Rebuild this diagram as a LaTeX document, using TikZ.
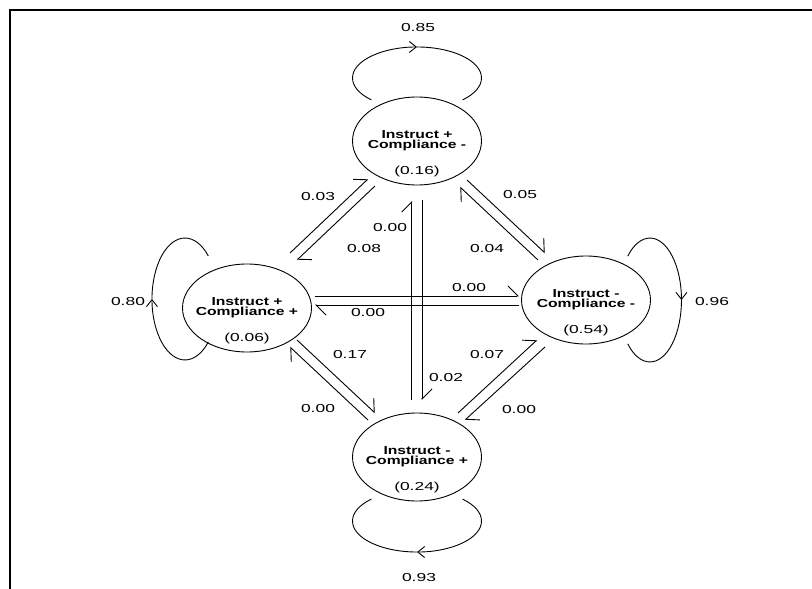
\documentclass[tikz,border=0pt]{standalone}
\usepackage{fontspec}
\setmainfont{Liberation Sans}
\newfontfamily\numfont{Liberation Sans}[FakeStretch=1.5]
\newfontfamily\statefont{Liberation Sans Bold}[FakeStretch=1.35]
\usetikzlibrary{arrows.meta,shapes.geometric}

\begin{document}
\begin{tikzpicture}[x=1pt, y=1pt, line width=0.9pt,
  state/.style={ellipse, draw, minimum width=129pt, minimum height=88pt, inner sep=0pt},
  statetext/.style={align=center, inner sep=0pt, yshift=-13pt, font=\statefont\fontsize{11.6}{10}\selectfont},
  prob/.style={inner sep=0pt, font=\numfont\fontsize{11.6}{12}\selectfont},
  flow/.style={-{Straight Barb[left, length=10pt, width=20pt]}},
  loopflow/.style={-{Straight Barb[length=7pt, width=11pt]}}]
  \useasboundingbox (0,0) rectangle (812,-589);
  \draw[line width=2pt] (812,-10) -- (10,-10) -- (10,-589);

  \node[state, label={[statetext]center:Instruct +\\Compliance -\\[14pt]\numfont (0.16)}] (ipcm) at (417,-141) {};
  \node[state, label={[statetext]center:Instruct +\\Compliance +\\[14pt]\numfont (0.06)}] (ipcp) at (247,-308) {};
  \node[state, label={[statetext]center:Instruct -\\Compliance -\\[14pt]\numfont (0.54)}] (imcm) at (586,-300) {};
  \node[state, label={[statetext]center:Instruct -\\Compliance +\\[14pt]\numfont (0.24)}] (imcp) at (417,-457) {};

  % self loops
  \draw[loopflow] ([shift={(-45.6,41.1)}]ipcm.center) arc[start angle=225, end angle=90, x radius=64.5, y radius=31];
  \draw ([shift={(45.6,41.1)}]ipcm.center) arc[start angle=-45, end angle=90, x radius=64.5, y radius=31];
  \draw[loopflow] ([shift={(-38.7,-34.1)}]ipcp.center) arc[start angle=-45, end angle=-180, x radius=33, y radius=61];
  \draw ([shift={(-38.7,52.1)}]ipcp.center) arc[start angle=45, end angle=180, x radius=33, y radius=61];
  \draw[loopflow] ([shift={(41.7,43.8)}]imcm.center) arc[start angle=135, end angle=0, x radius=31.5, y radius=62];
  \draw ([shift={(41.7,-43.8)}]imcm.center) arc[start angle=-135, end angle=0, x radius=31.5, y radius=62];
  \draw[loopflow] ([shift={(45.6,-42.1)}]imcp.center) arc[start angle=45, end angle=-90, x radius=64.5, y radius=31];
  \draw ([shift={(-45.6,-42.1)}]imcp.center) arc[start angle=135, end angle=270, x radius=64.5, y radius=31];

  % transitions between states
  \draw[flow] ([shift={(43,55)}]ipcp.center) -- ([shift={(-49,-38)}]ipcm.center);
  \draw[flow] ([shift={(-42,-45)}]ipcm.center) -- ([shift={(50,48)}]ipcp.center);
  \draw[flow] ([shift={(50,-39)}]ipcm.center) -- ([shift={(-41,47)}]imcm.center);
  \draw[flow] ([shift={(-48,40)}]imcm.center) -- ([shift={(43,-46)}]ipcm.center);
  \draw[flow] ([shift={(-49,37)}]imcp.center) -- ([shift={(43,-39)}]ipcp.center);
  \draw[flow] ([shift={(50,-32)}]ipcp.center) -- ([shift={(-42,44)}]imcp.center);
  \draw[flow] ([shift={(41,44)}]imcp.center) -- ([shift={(-49,-40)}]imcm.center);
  \draw[flow] ([shift={(-41,-47)}]imcm.center) -- ([shift={(48,37)}]imcp.center);
  \draw[flow] ([shift={(-5.3,57)}]imcp.center) -- ([shift={(-5.3,-60)}]ipcm.center);
  \draw[flow] ([shift={(5,-59)}]ipcm.center) -- ([shift={(5,57)}]imcp.center);
  \draw[flow] ([shift={(68,12)}]ipcp.center) -- ([shift={(-67,4)}]imcm.center);
  \draw[flow] ([shift={(-67,-5)}]imcm.center) -- ([shift={(68,3)}]ipcp.center);

  % probabilities
  \node[prob] (p85) at (418,-28) {0.85};
  \node[prob] (p80) at (128,-302) {0.80};
  \node[prob] (p96) at (712,-302) {0.96};
  \node[prob] (p93) at (419,-578) {0.93};
  \node[prob] (p03) at (318,-197) {0.03};
  \node[prob] (p08) at (364,-249) {0.08};
  \node[prob] (pbt) at (390,-228) {0.00};
  \node[prob] (p05) at (520,-195) {0.05};
  \node[prob] (p04) at (487,-249) {0.04};
  \node[prob] (plr) at (469,-288) {0.00};
  \node[prob] (prl) at (368,-313) {0.00};
  \node[prob] (p17) at (350,-355) {0.17};
  \node[prob] (p07) at (487,-355) {0.07};
  \node[prob] (p02) at (446,-378) {0.02};
  \node[prob] (pbl) at (318,-409) {0.00};
  \node[prob] (prb) at (519,-410) {0.00};
\end{tikzpicture}
\end{document}
